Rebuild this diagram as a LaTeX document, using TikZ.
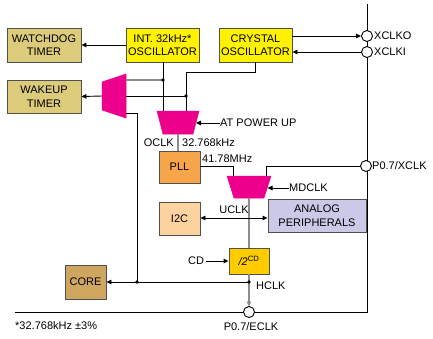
\documentclass[tikz,border=0pt]{standalone}
\usepackage{fontspec}
\setmainfont{Liberation Sans}
\usetikzlibrary{arrows.meta}
\definecolor{ylw}{HTML}{FFF200}
\definecolor{khaki}{HTML}{DCCB7A}
\definecolor{mag}{HTML}{EC008C}
\definecolor{pllc}{HTML}{F7A54A}
\definecolor{i2cc}{HTML}{FDD39F}
\definecolor{anac}{HTML}{CBC8E8}
\definecolor{divc}{HTML}{FFCC00}
\definecolor{corec}{HTML}{CFA660}
\definecolor{bord}{HTML}{505050}
\definecolor{gline}{HTML}{8C8C8C}
\tikzset{
  blk/.style={draw=bord, line width=0.9pt, align=center, inner sep=0pt, font=\fontsize{11}{13.5}\selectfont},
  lbl/.style={inner sep=0pt, font=\fontsize{11}{13.5}\selectfont},
  wire/.style={line width=0.9pt, black},
  gwire/.style={line width=1.3pt, gline},
  arr/.style={-{Triangle[length=5pt,width=4.5pt]}},
  darr/.style={{Triangle[length=5pt,width=4.5pt]}-{Triangle[length=5pt,width=4.5pt]}},
  pin/.style={circle, draw=black, fill=white, line width=0.9pt, minimum size=11pt, inner sep=0pt},
  jdot/.style={circle, fill=black, minimum size=3.6pt, inner sep=0pt},
  muxs/.style={fill=mag, draw=mag, line width=0.5pt}
}
\begin{document}
\begin{tikzpicture}[x=1pt, y=-1pt]
\useasboundingbox (0,0) rectangle (433,338);
% boxes
\node[blk, fill=khaki, minimum width=74pt, minimum height=34pt] (wd) at (44,45) {WATCHDOG\\TIMER};
\node[blk, fill=ylw, minimum width=73pt, minimum height=34pt] (int) at (162.5,45) {INT. 32kHz*\\OSCILLATOR};
\node[blk, fill=ylw, minimum width=73pt, minimum height=34pt] (xtal) at (255.5,45) {CRYSTAL\\OSCILLATOR};
\node[blk, fill=khaki, minimum width=74pt, minimum height=33pt] (wu) at (44,96.5) {WAKEUP\\TIMER};
\node[blk, fill=pllc, minimum width=41pt, minimum height=32pt] (pll) at (179.5,167) {PLL};
\node[blk, fill=i2cc, minimum width=41pt, minimum height=33pt] (i2c) at (179.5,218.5) {I2C};
\node[blk, fill=anac, minimum width=98pt, minimum height=33pt] (ana) at (317,215.5) {ANALOG\\PERIPHERALS};
\node[blk, fill=divc, minimum width=40pt, minimum height=26pt] (div) at (249,261) {{\itshape /2}\textsuperscript{CD}};
\node[blk, fill=corec, minimum width=41pt, minimum height=34pt] (core) at (85.5,282) {CORE};
% muxes
\fill[muxs] (102,82) -- (126,74) -- (126,118) -- (102,110) -- cycle;
\coordinate (wuout) at (102,96);
\coordinate (wuin1) at (126,80);
\coordinate (wuin2) at (126,96);
\coordinate (wuin3) at (126,113);
\fill[muxs] (157,111) -- (199,111) -- (193,134) -- (163,134) -- cycle;
\coordinate (ocin1) at (163,111);
\coordinate (ocin2) at (186,111);
\coordinate (ocout) at (178,134);
\coordinate (ocsel) at (196,123);
\fill[muxs] (227,176) -- (271,176) -- (264,198) -- (234,198) -- cycle;
\coordinate (mdin1) at (233,176);
\coordinate (mdin2) at (266,176);
\coordinate (mdout) at (249,198);
\coordinate (mdsel) at (267.5,188);
% frame
\coordinate (fl) at (15,312);
\coordinate (fc) at (367,312);
\coordinate (ft) at (367,4);
\draw[wire] (fl) -- (fc) -- (ft);
% junction coordinates
\coordinate (j1) at (163,80);
\coordinate (j2) at (186,96);
\coordinate (j3) at (249,282);
\coordinate (j4) at (137,282);
% wires
\draw[wire, arr] (int.west) -- (wd.east);
\draw[wire] (int.south -| ocin1) -- (ocin1);
\draw[gwire] (j1) -- (wuin1);
\draw[wire] (xtal.south) -- ++(0,10) -| (ocin2);
\draw[wire] (j2) -- (wuin2);
\draw[wire, arr] (wuout) -- (wu.east);
\draw[gwire] (ocout) -- (pll.north -| ocout);
\draw[wire] (pll.east |- 0,166) -| (mdin1);
\draw[gwire] (mdout) -- (div.north);
\draw[wire, darr] (i2c.east |- 0,218) -- (ana.west |- 0,218);
\draw[gwire, arr] (div.south) -- (249,306.5);
\draw[wire, arr] (j3) -- (core.east);
\draw[wire] (j4) -- (137,113) -- (wuin3);
% pins
\node[pin] (eclk) at (249,312) {};
\node[pin] (xclko) at (367,36) {};
\node[pin] (xclki) at (367,52) {};
\node[pin] (xclk) at (366,166) {};
\draw[wire, arr] (xtal.east |- xclko) -- (xclko.west);
\draw[wire, arr] (xclki.west) -- (xtal.east |- xclki);
\draw[wire] (xclk.west) -| (mdin2);
% dots
\node[jdot] at (j1) {};
\node[jdot] at (j2) {};
\node[jdot] at (j3) {};
\node[jdot] at (j4) {};
% select inputs and labels
\node[lbl, anchor=west] (apu) at (220,123) {AT POWER UP};
\draw[wire, arr] (apu.west) -- (ocsel);
\node[lbl, anchor=west] (mdl) at (289,188) {MDCLK};
\draw[wire, arr] (mdl.west) -- (mdsel);
\node[lbl] (cd) at (196,261) {CD};
\draw[wire, arr] (cd.east) ++(2,0) -- (div.west);
\node[lbl, anchor=west] at (374,36) {XCLKO};
\node[lbl, anchor=west] at (374,52) {XCLKI};
\node[lbl, anchor=west] at (372,166) {P0.7/XCLK};
\node[lbl, anchor=east] at (174,143) {OCLK};
\node[lbl, anchor=west] at (182,143) {32.768kHz};
\node[lbl, anchor=west] at (202,159) {41.78MHz};
\node[lbl] at (234,210) {UCLK};
\node[lbl, anchor=west] at (256,286) {HCLK};
\node[lbl] at (251,327) {P0.7/ECLK};
\node[lbl, anchor=west] at (15,326) {*32.768kHz ±3\%};
\end{tikzpicture}
\end{document}
